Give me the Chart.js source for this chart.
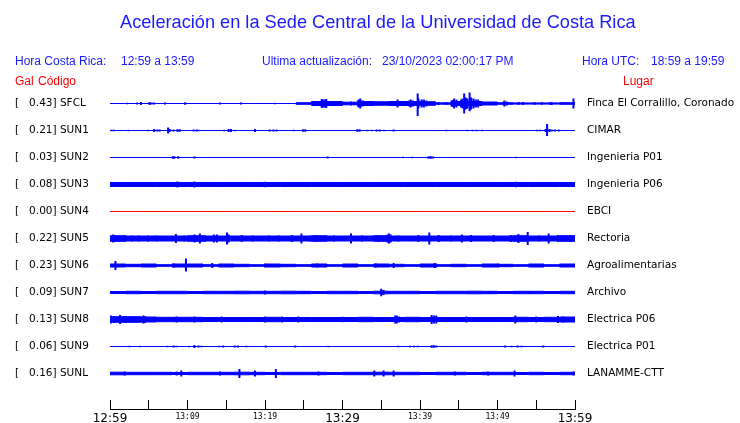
<!DOCTYPE html>
<html><head><meta charset="utf-8">
<script src="https://cdn.jsdelivr.net/npm/chart.js@4.4.1/dist/chart.umd.min.js"></script>
<style>
html,body{margin:0;padding:0;background:#fff;width:740px;height:423px;overflow:hidden}
#wrap{position:relative;width:740px;height:423px}
canvas{position:absolute;left:0;top:0}
.t{position:absolute;font-family:"Liberation Sans",Arial,sans-serif;white-space:pre;line-height:1;color:#1a1aff;font-size:12px}
.r{color:#ff0000}
</style></head><body>
<div id="wrap">
<canvas id="c" width="740" height="423"></canvas>
<div class="t" style="left:120px;top:12.6px;font-size:18.2px">Aceleración en la Sede Central de la Universidad de Costa Rica</div>
<div class="t" style="left:15px;top:55px">Hora Costa Rica:</div>
<div class="t" style="left:121px;top:55px">12:59 a 13:59</div>
<div class="t" style="left:262px;top:55px">Ultima actualización:</div>
<div class="t" style="left:382px;top:55px">23/10/2023 02:00:17 PM</div>
<div class="t" style="left:582px;top:55px">Hora UTC:</div>
<div class="t" style="left:651px;top:55px">18:59 a 19:59</div>
<div class="t r" style="left:15px;top:75px">Gal</div>
<div class="t r" style="left:38px;top:75px">Código</div>
<div class="t r" style="left:623px;top:75px">Lugar</div>
</div>
<script>
// ---- data ----
const CODES = ['SFCL','SUN1','SUN2','SUN3','SUN4','SUN5','SUN6','SUN7','SUN8','SUN9','SUNL'];
const PEAK_GAL = ['0.43','0.21','0.03','0.08','0.00','0.22','0.23','0.09','0.13','0.06','0.16'];
const PLACES = ['Finca El Corralillo, Coronado','CIMAR','Ingenieria P01','Ingenieria P06','EBCI','Rectoria','Agroalimentarias','Archivo','Electrica P06','Electrica P01','LANAMME-CTT'];
const TICK_MINUTES = [0,10,20,30,40,50,60];
const TICK_LABELS = ['12:59','13:09','13:19','13:29','13:39','13:49','13:59'];

// background noise band (half amplitude) per 2-minute block
const SFCL_FLOOR = [0,0,0,0,0,0,0,0,0,0,0,0,0.8,2,2,1.3,2,1.7,2,2,1.8,0.7,2,2,1.5,0.8,0.6,0.6,0.6,0.8];
const SUN1_FLOOR = [0,0,0,0,0,0,0,0,0,0,0,0,0,0,0,0,0,0,0,0,0,0,0,0,0,0,0,0,0,0];
const SUN2_FLOOR = [0,0,0,0,0,0,0,0,0,0,0,0,0,0,0,0,0,0,0,0,0,0,0,0,0,0,0,0,0,0];
const SUN3_FLOOR = [2,2,2,2,2,2,2,2,2,2,2,2,2,2,2,2,2,2,2,2,2,2,2,2,2,2,2,2,2,2];
const SUN4_FLOOR = [0,0,0,0,0,0,0,0,0,0,0,0,0,0,0,0,0,0,0,0,0,0,0,0,0,0,0,0,0,0];
const SUN5_FLOOR = [2.8,2.5,2.5,2.5,2.5,2.8,2.5,2.5,2.5,2.5,2.5,2.5,2.5,2.8,2.5,2.5,2.5,2.8,2.5,2.5,2.5,2.5,2.5,2.5,2.5,2.5,2.8,2.5,2.5,2.8];
const SUN6_FLOOR = [1.5,1.2,1.5,0.8,1.5,1.5,0.8,1.5,1.2,0.8,1.5,1.2,0.8,1.5,0.8,1.5,0.8,1.5,1.2,0.8,1.5,0.8,1.2,0.8,1.5,1.2,0.8,1.5,0.8,1.5];
const SUN7_FLOOR = [1.0,1.2,1.0,1.2,1.2,1.0,1.2,1.2,1.3,1.2,1.2,1.3,1.2,1.0,1.2,1.2,1.0,1.3,1.2,1.2,1.0,1.2,1.2,1.3,1.2,1.0,1.2,1.2,1.0,1.2];
const SUN8_FLOOR = [2.8,2.8,2.5,2.2,2.2,2.2,2,2,2,2,2.2,2,2,2,2,2,2.2,2,2,2.2,2,2,2,2,2,2,2.2,2,2.2,2.5];
const SUN9_FLOOR = [0,0,0,0,0,0,0,0,0,0,0,0,0,0,0,0,0,0,0,0,0,0,0,0,0,0,0,0,0,0];
const SUNL_FLOOR = [1.3,1.2,1.2,1.2,1.0,1.2,1.2,1.2,1.3,1.2,1.0,1.2,1.2,1.2,1.0,1.2,1.2,1.3,1.2,1.2,1.0,1.2,1.2,1.0,1.2,1.2,1.0,1.2,1.0,1.2];

// peaks: [minute, amplitude up, amplitude down (optional)]
const SFCL_SPIKES = [[2.2,0.7],[3.5,1],[4.0,1.5],[5.1,1.5],[5.4,1],[5.7,1],[7.1,1],[9.7,1.3],[14.2,1],[16.9,1],[21.3,0.7],[24.6,0.7],
 [27.3,4],[27.4,4.5],[27.6,3],[27.7,4],[27.9,4.5],[28.6,2.5],[29.0,2.5],[29.5,2.5],[30.2,1.5],[31.1,2],[31.5,1.5],
 [32.0,3],[32.1,4],[32.3,5],[32.6,3],[32.9,2.5],[33.3,2.5],[34.3,2],[35.5,1.5],[36.0,2],[37.1,4],[37.4,2.5],[38.3,2],[38.6,3],[38.8,4],[39.1,3],
 [39.7,10,12.5],[39.8,5],[40.2,4],[40.5,4],[40.8,3],[41.7,1.5],[42.4,1.5],[43.4,1.5],[44.1,3],[44.2,3.5],[44.4,5],[44.7,4],
 [45.3,4],[45.5,5],[45.7,10],[45.9,6],[46.1,5],[46.4,11,7.7],[46.6,6],[46.9,5],[47.2,4],[47.5,4],
 [50.8,2],[50.9,3],[51.2,2],[52.7,1.5],[53.3,1.5],[54.8,1.2],[55.7,1.2],[56.8,1.3],[57.0,1.5],[58.3,1],[59.8,5]];
const SUN1_SPIKES = [[0.2,0.8],[0.5,0.8],[2.4,0.8],[3.1,0.5],[4.9,0.8],[5.7,1.5],[6.1,1],[6.4,1],[6.9,0.5],[7.5,3],[7.7,1.5],[8.2,1],[8.7,1.2],[9.0,1.2],
 [10.8,1],[11.2,1],[11.4,0.8],[14.7,0.8],[15.3,1.5],[15.6,1.5],[16.1,0.7],[16.5,0.5],[17.0,0.5],[18.7,1.5],[20.6,1],[21.1,1],[21.5,1],[23.7,0.8],
 [24.9,1.3],[25.2,1.3],[31.9,1.3],[32.2,1.3],[33.2,0.7],[33.8,0.7],[34.4,1],[34.8,1],[35.4,0.8],[36.6,1],[37.8,0.5],[43.4,0.8],[44.0,0.5],
 [46.1,0.8],[46.8,0.8],[47.3,0.8],[48.0,0.7],[52.6,0.5],[55.1,0.7],[55.5,0.8],[56.2,1.5],[56.4,6.5,5.5],[56.7,1.5],[57.0,1],[57.4,1],[57.9,1]];
const SUN2_SPIKES = [[6.2,0.5],[8.1,1.2],[8.3,1.2],[8.8,1.2],[10.0,0.5],[10.9,1],[28.1,1],[37.8,0.7],[39.0,0.7],[39.7,0.5],[41.1,1.2],[41.4,1.2],[41.7,1],[52.4,0.8]];
const SUN3_SPIKES = [[6.2,2.5],[8.7,3],[10.9,3],[20.0,2.7],[41.4,2.5],[52.4,2.7]];
const SUN4_SPIKES = [];
const SUN5_SPIKES = [[0.4,4],[0.6,3.5],[1.2,3],[1.9,3],[2.8,3],[3.7,3],[4.9,3],[6.0,3],[8.5,4.5],[9.6,3],[10.9,4],[11.6,5],[12.2,3.5],[13.4,4],[13.8,4],
 [15.1,6],[15.3,4],[17.0,3.5],[18.4,3],[20.5,3],[21.8,3],[23.5,3.5],[24.7,5],[25.8,3],[26.5,3.5],[28.9,3],[31.1,5],[32.5,3],[34.6,3.5],[35.8,4],
 [36.0,5],[36.2,4],[37.2,3],[39.8,3.5],[41.2,6],[42.4,3.5],[44.0,3],[45.4,4],[46.6,3.5],[49.5,3.5],[51.7,3.5],[52.7,4.5],[53.9,6.5],[55.4,3],[56.6,5],[57.8,3.5],[59.4,3.5]];
const SUN6_SPIKES = [[0.7,4.5],[8.2,2],[9.8,7,6],[13.2,2.5],[20.0,2],[26.0,1.5],[26.7,2],[34.3,2],[36.6,2.5],[41.9,2.5],[42.1,2],[50.1,2],[51.0,1.5]];
const SUN7_SPIKES = [[5.5,1.5],[11.0,1.5],[20.0,2],[25.0,1.5],[35.0,3.7],[35.3,2.5],[48.8,1.5],[54.0,1.5]];
const SUN8_SPIKES = [[0.1,4],[0.5,3.5],[1.3,4.5],[2.0,3.5],[3.0,3],[4.3,4],[4.5,3.5],[8.6,3],[10.9,3],[14.4,3],[20.0,3],[22.2,3],[24.3,3],[30.0,2.8],
 [36.8,4],[37.0,4],[37.3,3],[41.5,4.5],[41.8,4],[42.1,4],[46.0,3],[52.3,4],[55.0,3],[57.8,3.5],[58.5,3]];
const SUN9_SPIKES = [[2.5,0.7],[2.9,0.5],[3.9,0.7],[4.4,0.5],[4.9,0.5],[6.4,0.5],[7.4,0.7],[8.2,1],[8.6,0.8],[10.2,0.8],[10.9,1.5],[11.4,1],[11.8,0.8],
 [14.1,0.8],[14.6,1],[16.1,1],[16.5,1],[17.6,0.7],[20.1,1],[23.9,1],[26.0,0.5],[28.2,0.7],[31.1,0.5],[34.9,0.5],[37.2,0.7],[38.7,0.7],[39.2,0.7],[39.7,0.7],
 [41.5,1.2],[41.8,1.2],[42.1,1],[51.0,1],[51.8,0.7],[52.6,1],[53.1,0.7],[55.9,1]];
const SUNL_SPIKES = [[0.1,1.5],[1.9,2],[8.6,2],[9.2,3],[14.2,2],[16.7,4.5],[18.7,3],[21.4,4.5],[26.9,2],[34.1,3],[35.3,3],[36.6,3],[44.5,2],[48.8,2],[52.2,3],[59.8,2]];

const FLOORS = [SFCL_FLOOR,SUN1_FLOOR,SUN2_FLOOR,SUN3_FLOOR,SUN4_FLOOR,SUN5_FLOOR,SUN6_FLOOR,SUN7_FLOOR,SUN8_FLOOR,SUN9_FLOOR,SUNL_FLOOR];
const SPIKES = [SFCL_SPIKES,SUN1_SPIKES,SUN2_SPIKES,SUN3_SPIKES,SUN4_SPIKES,SUN5_SPIKES,SUN6_SPIKES,SUN7_SPIKES,SUN8_SPIKES,SUN9_SPIKES,SUNL_SPIKES];

// ---- styling / layout ----
const BLUE = '#0000ff', RED = '#ff0000';
const COLORS = CODES.map(c => c === 'SUN4' ? RED : BLUE);
const AMP = 1/27;              // amplitude units -> lane units
const LANE0 = 28.5/27;         // first lane position
const YMAX = 334/27;
const AREA = {left:110, right:575, top:75, bottom:409};
const lane = i => LANE0 + i;
const BLOCK = 2;

const datasets = [];
FLOORS.forEach((fl, i) => {
  const b = lane(i), col = COLORS[i];
  const mk = s => fl.map((v,k) => ({x:k*BLOCK, y:b + s*v*AMP})).concat([{x:fl.length*BLOCK, y:b + s*fl[fl.length-1]*AMP}]);
  const common = {borderColor:col, backgroundColor:col, borderWidth:1, stepped:true, pointRadius:0, yAxisID:'y'};
  datasets.push(Object.assign({data:mk(-1), fill:false}, common));
  datasets.push(Object.assign({data:mk(1), fill:'-1'}, common));
  const sp = [];
  SPIKES[i].forEach(s => { const up=s[1], dn=(s.length>2?s[2]:s[1]);
    sp.push({x:s[0], y:b - up*AMP}, {x:s[0], y:b + dn*AMP}, {x:s[0], y:null}); });
  datasets.push({data:sp, borderColor:col, borderWidth:2, pointRadius:0, fill:false, spanGaps:false, yAxisID:'y'});
});

const laneTicks = s => { s.ticks = CODES.map((_,i) => ({value: lane(i)})); };

const chart = new Chart(document.getElementById('c'), {
  type: 'line',
  data: {datasets},
  options: {
    responsive:false, animation:false, events:[],
    layout:{autoPadding:false, padding:{left:15, right:0, top:75, bottom:0}},
    plugins:{legend:{display:false}, tooltip:{enabled:false}},
    scales:{
      x:{type:'linear', min:0, max:60, position:'bottom',
         afterFit: s => { s.height = 14; },
         ticks:{stepSize:5, autoSkip:false, maxRotation:0, padding:12, color:'#000',
           callback: v => { const k = TICK_MINUTES.indexOf(v); return k>=0 ? TICK_LABELS[k] : ''; },
           font: ctx => (ctx.tick && ctx.tick.value % 30 === 0) ? {family:'DejaVu Sans', size:12} : {family:'DejaVu Sans Mono', size:8}},
         grid:{drawOnChartArea:false, drawTicks:true, tickLength:-9, color:'#000', lineWidth:1},
         border:{display:true, color:'#000', width:1}},
      y:{type:'linear', reverse:true, min:0, max:YMAX, position:'left',
         afterFit: s => { s.width = 95; }, afterBuildTicks: laneTicks,
         ticks:{autoSkip:false, crossAlign:'far', padding:0, color:'#000', font:{family:'DejaVu Sans', size:10.5},
           callback:(v,i) => '[   ' + PEAK_GAL[i] + '] ' + CODES[i]},
         grid:{display:false, drawTicks:false}, border:{display:false}},
      y2:{type:'linear', reverse:true, min:0, max:YMAX, position:'right',
         afterFit: s => { s.width = 165; }, afterBuildTicks: laneTicks,
         ticks:{autoSkip:false, crossAlign:'near', padding:0, color:'#000', font:{family:'DejaVu Sans', size:10.5},
           callback:(v,i) => PLACES[i]},
         grid:{display:false, drawTicks:true, tickLength:12}, border:{display:false}}
    }
  }
});
// nudge the layout padding so the plot area lands exactly where the reference has it
for (let k = 0; k < 3; k++) {
  const ca = chart.chartArea, p = chart.options.layout.padding;
  if (Math.abs(ca.left-AREA.left)+Math.abs(ca.right-AREA.right)+Math.abs(ca.top-AREA.top)+Math.abs(ca.bottom-AREA.bottom) < 0.01) break;
  chart.options.layout.padding = {left: p.left + (AREA.left - ca.left), right: p.right + (ca.right - AREA.right),
              top: p.top + (AREA.top - ca.top), bottom: p.bottom + (ca.bottom - AREA.bottom)};
  chart.update();
}
</script>
</body></html>
